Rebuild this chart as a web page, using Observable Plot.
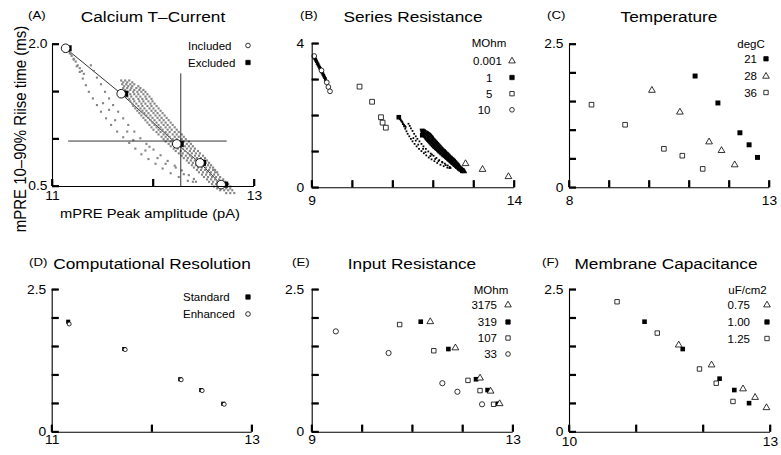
<!DOCTYPE html>
<html><head><meta charset="utf-8">
<script src="https://cdn.jsdelivr.net/npm/d3@7"></script>
<script src="https://cdn.jsdelivr.net/npm/@observablehq/plot@0.6"></script>
<style>
html,body{margin:0;padding:0;background:#fff;}
#wrap{position:relative;width:781px;height:455px;overflow:hidden;background:#fff;}
</style></head><body><div id="wrap"></div>
<script>
// ---------- DATA ----------
// Panel A: Calcium T-Current
const aIncX = [11.13, 11.68, 12.23, 12.46, 12.67];
const aIncY = [1.96, 1.48, 0.95, 0.75, 0.52];
const aExcX = [11.16, 11.72, 12.27, 12.49, 12.71];
const aExcY = [1.96, 1.48, 0.95, 0.75, 0.52];
const aCrossX = 12.27, aCrossYSpan = [0.5, 1.69];
const aCrossY = 0.98, aCrossXSpan = [11.16, 12.73];
const aFan1 = [[11.18,1.90],[11.21,1.84],[11.24,1.77],[11.27,1.71],[11.30,1.64],[11.33,1.57],[11.36,1.50],[11.40,1.43],[11.44,1.36],[11.48,1.29],[11.53,1.22],[11.58,1.15],[11.64,1.08],[11.70,1.02],[11.76,0.96],[11.82,0.90],[11.88,0.84],[11.95,0.79],[12.02,0.74],[12.09,0.69],[12.17,0.64],[12.25,0.60],[12.34,0.56],[12.39,0.55]];
const aFan2 = [[11.38,1.78],[11.41,1.72],[11.44,1.65],[11.48,1.58],[11.52,1.50],[11.56,1.43],[11.60,1.36],[11.65,1.29],[11.70,1.22],[11.75,1.15],[11.81,1.08],[11.87,1.01],[11.93,0.95],[12.00,0.89],[12.07,0.83],[12.14,0.77],[12.21,0.72],[12.28,0.67],[12.35,0.62]];
const aFan3 = [[11.15,1.94],[11.17,1.91],[11.19,1.88],[11.21,1.85],[11.23,1.82],[11.25,1.78],[11.27,1.75],[11.29,1.72],[11.31,1.69]];
const aMisc = [[11.56,1.31],[11.62,1.20],[11.74,1.08],[11.80,0.99],[11.92,0.88],[12.04,0.80],[12.12,0.74],[12.22,0.70],[12.30,0.63],[11.50,1.38],[11.96,0.92],[12.40,0.58],[12.42,0.55]];
const aBandRows = [
  [1.62,[11.68,11.72,11.76]],
  [1.58,[11.69,11.73,11.77,11.81]],
  [1.54,[11.70,11.74,11.78,11.83,11.87]],
  [1.50,[11.71,11.75,11.80,11.84,11.88,11.92]],
  [1.45,[11.74,11.78,11.83,11.87,11.92,11.96]],
  [1.40,[11.77,11.81,11.86,11.90,11.95,11.99]],
  [1.35,[11.80,11.85,11.89,11.94,11.98,12.03]],
  [1.30,[11.84,11.89,11.93,11.98,12.02,12.07]],
  [1.25,[11.88,11.93,11.97,12.02,12.06,12.11]],
  [1.20,[11.92,11.97,12.01,12.06,12.10,12.15]],
  [1.15,[11.96,12.01,12.05,12.10,12.14,12.19]],
  [1.10,[12.00,12.05,12.09,12.14,12.18,12.23]],
  [1.05,[12.05,12.10,12.14,12.19,12.23,12.28]],
  [1.00,[12.10,12.14,12.19,12.23,12.28,12.32]],
  [0.95,[12.15,12.19,12.24,12.28,12.33,12.37]],
  [0.90,[12.20,12.24,12.29,12.33,12.37,12.41]],
  [0.85,[12.25,12.29,12.34,12.38,12.42,12.46]],
  [0.80,[12.30,12.34,12.38,12.43,12.47,12.51]],
  [0.75,[12.35,12.39,12.43,12.48,12.52,12.55]],
  [0.70,[12.40,12.44,12.48,12.52,12.56,12.59]],
  [0.65,[12.45,12.49,12.53,12.57,12.61,12.63]],
  [0.60,[12.50,12.54,12.58,12.62,12.66]],
  [0.55,[12.55,12.59,12.63,12.67,12.71]],
  [0.50,[12.60,12.64,12.68,12.72,12.76]],
  [0.46,[12.66,12.70,12.74,12.78]],
  [0.43,[12.72,12.76,12.80]]
];
const aBandRows2 = [
  [1.60,[11.70,11.74,11.79]],
  [1.56,[11.71,11.75,11.79,11.85]],
  [1.52,[11.72,11.77,11.81,11.86,11.90]],
  [1.475,[11.73,11.77,11.81,11.85,11.90,11.94]],
  [1.425,[11.76,11.80,11.85,11.89,11.93,11.98]],
  [1.375,[11.79,11.83,11.88,11.92,11.97,12.01]],
  [1.325,[11.82,11.87,11.91,11.96,12.00,12.05]],
  [1.275,[11.86,11.91,11.95,12.00,12.04,12.09]],
  [1.225,[11.90,11.95,11.99,12.04,12.08,12.13]],
  [1.175,[11.94,11.99,12.03,12.08,12.12,12.17]],
  [1.125,[11.98,12.03,12.07,12.12,12.16,12.21]],
  [1.075,[12.03,12.07,12.12,12.16,12.21,12.25]],
  [1.025,[12.08,12.12,12.16,12.21,12.25,12.30]],
  [0.975,[12.12,12.17,12.21,12.26,12.30,12.35]],
  [0.925,[12.17,12.22,12.26,12.31,12.35,12.39]],
  [0.875,[12.22,12.27,12.31,12.36,12.40,12.44]],
  [0.825,[12.28,12.32,12.36,12.41,12.45,12.49]],
  [0.775,[12.33,12.37,12.41,12.46,12.50,12.53]],
  [0.725,[12.38,12.42,12.46,12.50,12.54,12.57]],
  [0.675,[12.43,12.47,12.51,12.55,12.59,12.61]],
  [0.625,[12.48,12.52,12.56,12.60,12.64]],
  [0.575,[12.53,12.57,12.61,12.65,12.69]],
  [0.525,[12.58,12.62,12.66,12.70,12.74]],
  [0.48,[12.63,12.67,12.72,12.76]]
];
// Panel B: Series Resistance (MOhm)
const b0001X = [12.79, 13.21, 13.85], b0001Y = [0.67, 0.51, 0.31];
const b1X = [11.14, 11.72, 12.27, 12.49, 12.71], b1Y = [1.96, 1.46, 0.93, 0.74, 0.47];
const b5X = [10.17, 10.48, 10.70, 10.74, 10.82], b5Y = [2.81, 2.39, 1.96, 1.81, 1.67];
const b10X = [9.05, 9.23, 9.36, 9.40, 9.44], b10Y = [3.66, 3.26, 2.93, 2.80, 2.68];
const b10Cloud = [[9.04,3.63],[9.06,3.58],[9.08,3.54],[9.10,3.50],[9.12,3.45],[9.14,3.41],[9.16,3.37],[9.18,3.32],[9.20,3.28],[9.22,3.23],[9.24,3.19],[9.26,3.15],[9.28,3.10],[9.30,3.06],[9.32,3.01],[9.34,2.97],[9.07,3.62],[9.09,3.57],[9.11,3.53],[9.13,3.48],[9.15,3.44],[9.17,3.39],[9.19,3.35],[9.21,3.31],[9.23,3.26],[9.25,3.22],[9.27,3.17],[9.29,3.13],[9.31,3.08],[9.33,3.04]];
// Panel C: Temperature (degC)
const c21X = [11.14, 11.71, 12.26, 12.49, 12.70], c21Y = [1.95, 1.48, 0.96, 0.75, 0.53];
const c28X = [10.06, 10.76, 11.49, 11.80, 12.13], c28Y = [1.70, 1.32, 0.80, 0.65, 0.40];
const c36X = [8.55, 9.39, 10.36, 10.82, 11.33], c36Y = [1.45, 1.10, 0.68, 0.56, 0.33];
// Panel D: Computational Resolution
const dStdX = [11.16, 11.72, 12.28, 12.49, 12.71], dStdY = [1.94, 1.46, 0.93, 0.74, 0.50];
const dEnhX = [11.17, 11.73, 12.29, 12.50, 12.72], dEnhY = [1.90, 1.45, 0.92, 0.73, 0.49];
// Panel E: Input Resistance (MOhm)
const e3175X = [11.35, 11.85, 12.34, 12.55, 12.73], e3175Y = [1.94, 1.48, 0.95, 0.72, 0.50];
const e319X = [11.16, 11.71, 12.26, 12.49, 12.70], e319Y = [1.94, 1.46, 0.93, 0.74, 0.50];
const e107X = [10.74, 11.42, 12.10, 12.34, 12.61], e107Y = [1.89, 1.43, 0.91, 0.73, 0.49];
const e33X = [9.47, 10.52, 11.59, 11.89, 12.38], e33Y = [1.77, 1.39, 0.86, 0.71, 0.49];
// Panel F: Membrane Capacitance (uF/cm2)
const f075X = [11.63, 12.12, 12.59, 12.77, 12.94], f075Y = [1.53, 1.18, 0.76, 0.61, 0.43];
const f100X = [11.12, 11.69, 12.24, 12.46, 12.68], f100Y = [1.94, 1.46, 0.94, 0.74, 0.51];
const f125X = [10.71, 11.31, 11.94, 12.19, 12.44], f125Y = [2.29, 1.74, 1.11, 0.86, 0.54];

// ---------- RENDER ----------
const FONT = '"Liberation Sans", Arial, Helvetica, sans-serif';
const SX = 1.15;
const wrap = document.getElementById("wrap");
const flatRows = rows => rows.flatMap(([y, xs]) => xs.map(x => [x, y]));
const aCloud = [...aFan1, ...aFan2, ...aFan3, ...aMisc, ...flatRows(aBandRows), ...flatRows(aBandRows2)];
const tickSegs = []; // inward ticks placed through each plot's own scales

function panel({cell, area, xDomain, yDomain, xTicks, yTicks, xLabels, yLabels, yFmt, xPad, yPad, marks}) {
  const [cl, ct, cw, ch] = cell;
  const [pl, pt, pr, pb] = area;
  const T = 7;
  const svg = Plot.plot({
    width: cw, height: ch,
    marginLeft: pl - cl, marginRight: cl + cw - pr, marginTop: pt - ct, marginBottom: ct + ch - pb,
    x: {domain: xDomain}, y: {domain: yDomain},
    style: {fontFamily: FONT, fontSize: "12px", overflow: "visible", background: "transparent", color: "#000"},
    marks: [
      ...marks,
      Plot.ruleX([xDomain[0]], {y1: yDomain[0], y2: yDomain[1], stroke: "#000", strokeWidth: 1.1}),
      Plot.ruleY([yDomain[0]], {x1: xDomain[0], x2: xDomain[1], stroke: "#000", strokeWidth: 1.1}),
      Plot.axisX({ticks: xTicks, tickSize: T, dy: -T, tickFormat: () => "", label: null, stroke: "#000", strokeWidth: 1.6}),
      Plot.axisY({ticks: yTicks, tickSize: T, dx: T, tickFormat: () => "", label: null, stroke: "#000", strokeWidth: 1.6}),
      Plot.axisX({ticks: xLabels, tickSize: 0, tickPadding: xPad, tickFormat: d => String(d), label: null, fill: "#000"}),
      Plot.axisY({ticks: yLabels, tickSize: 0, tickPadding: yPad, tickFormat: yFmt, label: null, fill: "#000"})
    ]
  });
  svg.querySelectorAll('g[aria-label$="tick label"] text').forEach(t => {
    const tr = t.getAttribute("transform") || "";
    t.setAttribute("transform", tr + ` scale(${SX},1)`);
  });
  const sx = svg.scale("x"), sy = svg.scale("y");
  const x0 = cl + sx.apply(xDomain[0]), y0 = ct + sy.apply(yDomain[0]);
  xTicks.forEach(v => { const x = cl + sx.apply(v); tickSegs.push([x, y0, x, y0 - T]); });
  yTicks.forEach(v => { const y = ct + sy.apply(v); tickSegs.push([x0, y, x0 + T, y]); });
  svg.style.position = "absolute";
  svg.style.left = cl + "px";
  svg.style.top = ct + "px";
  wrap.appendChild(svg);
}
const fmt1 = d => d.toFixed(1);
const fmtC = d => d === 0 ? "0" : d.toFixed(1);
const dots = (X, Y, o) => Plot.dot(Y, {x: X, y: Y, ...o});
const cloudXY = {x: d => d[0], y: d => d[1]};

// A
panel({cell: [0, 0, 262, 228], area: [52, 44, 254, 186], xDomain: [11, 13], yDomain: [0.5, 2.0],
  xTicks: [11, 12, 13], yTicks: [0.5, 1.0, 1.5, 2.0], xLabels: [11, 13], yLabels: [0.5, 2.0], yFmt: fmt1, xPad: 5, yPad: 5,
  marks: [
    Plot.line(aIncY, {x: aIncX, y: aIncY, stroke: "#000", strokeWidth: 0.8}),
    Plot.dot(aCloud, {...cloudXY, symbol: "square", r: 1.2, fill: "#858585"}),
    Plot.ruleX([aCrossX], {y1: aCrossYSpan[0], y2: aCrossYSpan[1], stroke: "#000", strokeWidth: 0.8}),
    Plot.ruleY([aCrossY], {x1: aCrossXSpan[0], x2: aCrossXSpan[1], stroke: "#000", strokeWidth: 0.8}),
    dots(aExcX, aExcY, {symbol: "square", r: 3.4, fill: "#000"}),
    dots(aIncX, aIncY, {r: 4.3, fill: "#fff", stroke: "#000", strokeWidth: 0.9})
  ]});
// B
panel({cell: [262, 0, 258, 228], area: [311.7, 43.3, 514, 187.3], xDomain: [9, 14], yDomain: [0, 4],
  xTicks: [9, 10, 11, 12, 13, 14], yTicks: [0, 1, 2, 3, 4], xLabels: [9, 14], yLabels: [0, 4], yFmt: d => String(d), xPad: 9, yPad: 8,
  marks: [
    Plot.dot(aCloud, {...cloudXY, symbol: "square", r: 1.0, fill: "#000"}),
    Plot.dot(b10Cloud, {...cloudXY, symbol: "square", r: 1.4, fill: "#000"}),
    dots(b1X, b1Y, {symbol: "square", r: 2.6, fill: "#000"}),
    dots(b5X, b5Y, {symbol: "square", r: 2.7, fill: "#fff", stroke: "#000", strokeWidth: 0.8}),
    dots(b10X, b10Y, {r: 2.4, fill: "#fff", stroke: "#000", strokeWidth: 0.8}),
    dots(b0001X, b0001Y, {symbol: "triangle", r: 2.5, fill: "#fff", stroke: "#000", strokeWidth: 0.8})
  ]});
// C
panel({cell: [520, 0, 261, 228], area: [569, 44, 769, 187.3], xDomain: [8, 13], yDomain: [0, 2.5],
  xTicks: [8, 9, 10, 11, 12, 13], yTicks: [0, 0.5, 1, 1.5, 2, 2.5], xLabels: [8, 13], yLabels: [0, 2.5], yFmt: fmtC, xPad: 9, yPad: 6,
  marks: [
    dots(c21X, c21Y, {symbol: "square", r: 2.8, fill: "#000"}),
    dots(c28X, c28Y, {symbol: "triangle", r: 2.5, fill: "#fff", stroke: "#000", strokeWidth: 0.8}),
    dots(c36X, c36Y, {symbol: "square", r: 2.6, fill: "#fff", stroke: "#000", strokeWidth: 0.8})
  ]});
// D
panel({cell: [0, 228, 262, 227], area: [51.7, 289.3, 251.7, 431.7], xDomain: [11, 13], yDomain: [0, 2.5],
  xTicks: [11, 12, 13], yTicks: [0, 0.5, 1, 1.5, 2, 2.5], xLabels: [11, 13], yLabels: [0, 2.5], yFmt: fmtC, xPad: 3, yPad: 6,
  marks: [
    dots(dStdX, dStdY, {symbol: "square", r: 2.3, fill: "#000"}),
    dots(dEnhX, dEnhY, {r: 2.0, fill: "#fff", stroke: "#000", strokeWidth: 0.8})
  ]});
// E
panel({cell: [262, 228, 258, 227], area: [311.7, 289.3, 512.7, 431.7], xDomain: [9, 13], yDomain: [0, 2.5],
  xTicks: [9, 10, 11, 12, 13], yTicks: [0, 0.5, 1, 1.5, 2, 2.5], xLabels: [9, 13], yLabels: [0, 2.5], yFmt: fmtC, xPad: 3, yPad: 8,
  marks: [
    dots(e33X, e33Y, {r: 2.6, fill: "#fff", stroke: "#000", strokeWidth: 0.8}),
    dots(e107X, e107Y, {symbol: "square", r: 2.5, fill: "#fff", stroke: "#000", strokeWidth: 0.8}),
    dots(e319X, e319Y, {symbol: "square", r: 2.6, fill: "#000"}),
    dots(e3175X, e3175Y, {symbol: "triangle", r: 2.5, fill: "#fff", stroke: "#000", strokeWidth: 0.8})
  ]});
// F
panel({cell: [520, 228, 261, 227], area: [569, 289.3, 770, 431.7], xDomain: [10, 13], yDomain: [0, 2.5],
  xTicks: [10, 11, 12, 13], yTicks: [0, 0.5, 1, 1.5, 2, 2.5], xLabels: [10, 13], yLabels: [0, 2.5], yFmt: fmtC, xPad: 5, yPad: 6,
  marks: [
    dots(f125X, f125Y, {symbol: "square", r: 2.5, fill: "#fff", stroke: "#000", strokeWidth: 0.8}),
    dots(f100X, f100Y, {symbol: "square", r: 2.6, fill: "#000"}),
    dots(f075X, f075Y, {symbol: "triangle", r: 2.5, fill: "#fff", stroke: "#000", strokeWidth: 0.8})
  ]});

// ---------- OVERLAY (ticks via plot scales, titles, axis titles, legends) ----------
const ov = d3.select(wrap).append("svg").attr("width", 781).attr("height", 455)
  .style("position", "absolute").style("left", "0px").style("top", "0px").style("overflow", "visible")
  .style("font-family", FONT);
ov.append("g").selectAll("line").data(tickSegs).join("line")
  .attr("x1", d => d[0]).attr("y1", d => d[1]).attr("x2", d => d[2]).attr("y2", d => d[3])
  .attr("stroke", "#000").attr("stroke-width", 1.8);
function txt(x, y, s, {size = 12, anchor = "start", sx = 1, rot = 0} = {}) {
  ov.append("text")
    .attr("transform", `translate(${x},${y}) scale(${sx},1)${rot ? ` rotate(${rot})` : ""}`)
    .attr("text-anchor", anchor).attr("dominant-baseline", "central")
    .attr("font-size", size).attr("fill", "#000").text(s);
}
function sym(x, y, type, filled, size) {
  const t = {circle: d3.symbolCircle, square: d3.symbolSquare, triangle: d3.symbolTriangle}[type];
  ov.append("path").attr("transform", `translate(${x},${y})`).attr("d", d3.symbol(t, size)())
    .attr("fill", filled ? "#000" : "#fff").attr("stroke", "#000").attr("stroke-width", 0.8);
}
// panel titles
const titles = [
  ["(A)", "Calcium T\u2013Current", 28, 153, 16],
  ["(B)", "Series Resistance", 300, 413, 16],
  ["(C)", "Temperature", 547, 669, 16],
  ["(D)", "Computational Resolution", 29, 152, 263.5],
  ["(E)", "Input Resistance", 292, 412, 263.5],
  ["(F)", "Membrane Capacitance", 542, 666, 263.5]
];
titles.forEach(([tag, name, tx, cx, y]) => {
  txt(tx, y - 1, tag, {size: 11.5, sx: SX});
  txt(cx, y, name, {size: 15, anchor: "middle", sx: SX});
});
// axis titles
txt(19.5, 129, "mPRE 10\u201390% Riise time  (ms)", {size: 15, anchor: "middle", sx: SX, rot: -90});
txt(150, 214, "mPRE Peak amplitude  (pA)", {size: 12.8, anchor: "middle", sx: SX});
// legends
const LS = 11.5;
const SQ = 19, CI = 17, TR = 19;
// A
txt(188, 45.5, "Included", {size: LS}); sym(248, 45.5, "circle", false, CI);
txt(188, 62.5, "Excluded", {size: LS}); sym(248, 62.5, "square", true, SQ);
// B
txt(489, 42.5, "MOhm", {size: LS, anchor: "middle"});
txt(473, 61, "0.001", {size: LS}); sym(512, 61, "triangle", false, TR);
txt(492.5, 77.5, "1", {size: LS, anchor: "end"}); sym(512, 77.5, "square", true, SQ);
txt(492.5, 93.7, "5", {size: LS, anchor: "end"}); sym(512, 93.7, "square", false, SQ);
txt(490.5, 109.8, "10", {size: LS, anchor: "end"}); sym(512, 109.8, "circle", false, CI);
// C
txt(751, 44, "degC", {size: LS, anchor: "middle"});
txt(757, 58.8, "21", {size: LS, anchor: "end"}); sym(766, 58.8, "square", true, SQ);
txt(757, 76.3, "28", {size: LS, anchor: "end"}); sym(766, 76.3, "triangle", false, TR);
txt(757, 92.5, "36", {size: LS, anchor: "end"}); sym(766, 92.5, "square", false, SQ);
// D
txt(183, 297, "Standard", {size: LS}); sym(248, 297, "square", true, SQ);
txt(183, 314, "Enhanced", {size: LS}); sym(248, 314, "circle", false, CI);
// E
txt(491, 290, "MOhm", {size: LS, anchor: "middle"});
txt(497, 305, "3175", {size: LS, anchor: "end"}); sym(508, 305, "triangle", false, TR);
txt(497, 322, "319", {size: LS, anchor: "end"}); sym(508, 322, "square", true, SQ);
txt(497, 338, "107", {size: LS, anchor: "end"}); sym(508, 338, "square", false, SQ);
txt(497, 354, "33", {size: LS, anchor: "end"}); sym(508, 354, "circle", false, CI);
// F
txt(747.5, 290, "uF/cm2", {size: LS, anchor: "middle"});
txt(750, 305, "0.75", {size: LS, anchor: "end"}); sym(767, 305, "triangle", false, TR);
txt(750, 322, "1.00", {size: LS, anchor: "end"}); sym(767, 322, "square", true, SQ);
txt(750, 338.5, "1.25", {size: LS, anchor: "end"}); sym(767, 338.5, "square", false, SQ);
</script></body></html>
